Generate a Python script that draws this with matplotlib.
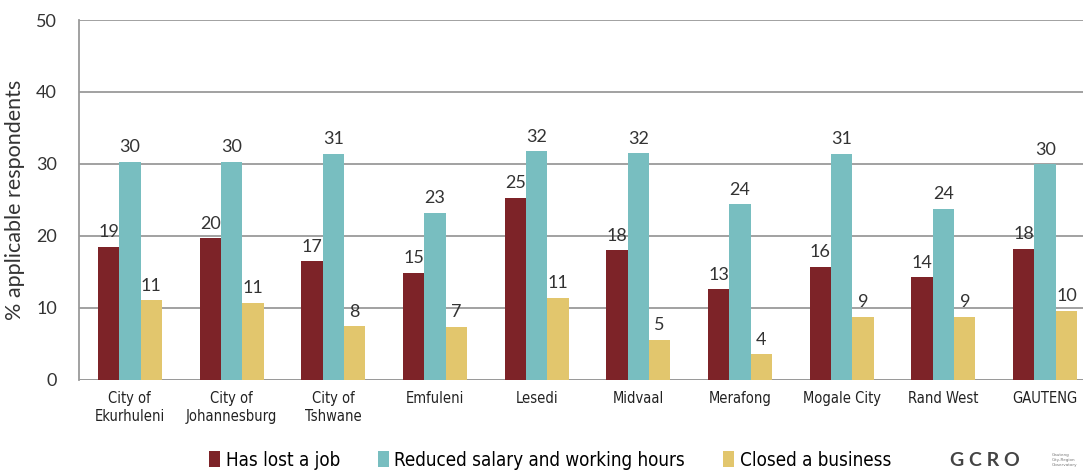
import matplotlib
matplotlib.use("Agg")
import matplotlib.pyplot as plt
import numpy as np

# === data
regions = ["City of\nEkurhuleni", "City of\nJohannesburg", "City of\nTshwane", "Emfuleni",
           "Lesedi", "Midvaal", "Merafong", "Mogale City", "Rand West", "GAUTENG"]
lost_job = [18.5, 19.7, 16.5, 14.9, 25.3, 18.0, 12.6, 15.7, 14.3, 18.2]
reduced_salary = [30.3, 30.3, 31.4, 23.2, 31.8, 31.5, 24.4, 31.4, 23.8, 30.0]
closed_business = [11.1, 10.7, 7.5, 7.4, 11.4, 5.6, 3.6, 8.8, 8.8, 9.6]
# printed labels as shown on the chart
lost_job_lbl = [19, 20, 17, 15, 25, 18, 13, 16, 14, 18]
reduced_salary_lbl = [30, 30, 31, 23, 32, 32, 24, 31, 24, 30]
closed_business_lbl = [11, 11, 8, 7, 11, 5, 4, 9, 9, 10]
series_names = ["Has lost a job", "Reduced salary and working hours", "Closed a business"]

colors = ["#7d2328", "#78bec0", "#e2c66d"]
round_font = ["Lato", "DejaVu Sans"]

fig = plt.figure(figsize=(10.83, 4.70), dpi=100)
ax = fig.add_axes([79 / 1083, 90 / 470, 1017 / 1083, 360 / 470])

x = np.arange(len(regions))
w = 0.21
series = [(lost_job, lost_job_lbl), (reduced_salary, reduced_salary_lbl), (closed_business, closed_business_lbl)]
for i, ((vals, lbls), c) in enumerate(zip(series, colors)):
    bars = ax.bar(x + (i - 1) * w, vals, width=w, color=c, zorder=3, label=series_names[i])
    for b, v, l in zip(bars, vals, lbls):
        ax.text(b.get_x() + b.get_width() / 2, v + 0.9, str(l), ha="center", va="bottom",
                fontsize=13, color="#333333", family=round_font, zorder=4)

ax.set_xlim(-0.5, len(regions) - 0.5)
ax.set_ylim(0, 50)
ax.set_yticks(range(0, 51, 10))
ax.yaxis.grid(True, color="#9a9a9a", linewidth=1.3, zorder=0)
for s in ["top", "right", "bottom"]:
    ax.spines[s].set_visible(False)
ax.spines["left"].set_color("#9a9a9a")
ax.spines["left"].set_linewidth(1.3)
ax.axhline(0, color="#9a9a9a", linewidth=1.3, zorder=2)
ax.tick_params(axis="both", length=0)
ax.tick_params(axis="y", pad=16)
ax.tick_params(axis="x", pad=8)
ax.set_xticks(x)
ax.set_xticklabels(regions, family="DejaVu Sans", stretch="condensed", fontsize=10.5, color="#222222")
for t in ax.get_yticklabels():
    t.set_family(round_font)
    t.set_fontsize(13)
    t.set_color("#333333")
ax.set_ylabel("% applicable respondents", family=round_font, fontsize=15.5, color="#333333", labelpad=8)

handles, labels = ax.get_legend_handles_labels()
fig.legend(handles, labels, loc="center", bbox_to_anchor=(550 / 1083, 10 / 470), ncol=3, frameon=False,
           prop={"family": "DejaVu Sans", "stretch": "condensed", "size": 13.5}, handlelength=0.6,
           handleheight=0.9, handletextpad=0.3, columnspacing=2.0)

fig.text(985 / 1083, 10 / 470, "G C R O", ha="center", va="center", fontsize=14, color="#444444",
         family=round_font, fontweight="bold")
fig.text(1052 / 1083, 10 / 470, "Gauteng\nCity-Region\nObservatory", ha="left", va="center",
         fontsize=3, color="#777777")

fig.savefig("out.png", dpi=100)
